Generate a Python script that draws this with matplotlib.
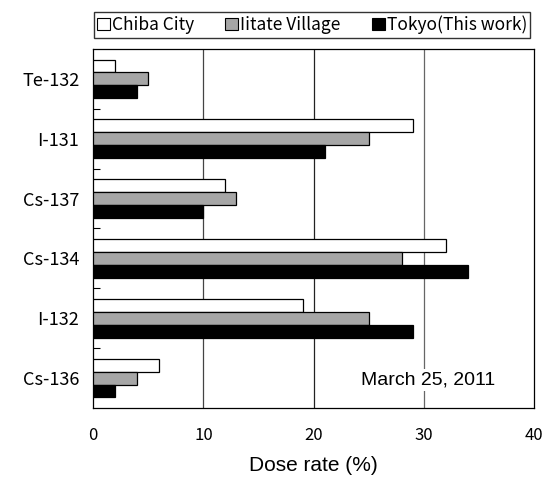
import numpy as np
import matplotlib.pyplot as plt
from matplotlib.patches import Patch

plt.rcParams['font.family'] = ['Noto Sans CJK JP', 'DejaVu Sans']

NUCLIDES = ['Te-132', 'I-131', 'Cs-137', 'Cs-134', 'I-132', 'Cs-136']
CHIBA = [2, 29, 12, 32, 19, 6]
IITATE = [5, 25, 13, 28, 25, 4]
TOKYO = [4, 21, 10, 34, 29, 2]
SERIES = ['Chiba City', 'Iitate Village', 'Tokyo(This work)']
COLORS = ['white', '#a6a6a6', 'black']

fig = plt.figure(figsize=(5.42, 4.80), dpi=100)
ax = fig.add_axes([0.172, 0.150, 0.813, 0.748])

y = np.arange(len(NUCLIDES))
h = 0.215
for i, (vals, c) in enumerate(zip([CHIBA, IITATE, TOKYO], COLORS)):
    ax.barh(y + (i - 1) * h, vals, height=h, color=c, edgecolor='black',
            linewidth=0.9, zorder=3)

for g, gc in zip([10, 20, 30], ['#444444', '#222222', '#666666']):
    ax.axvline(g, color=gc, linewidth=0.9, zorder=1)

ax.set_xlim(0, 40)
ax.set_ylim(len(NUCLIDES) - 0.5, -0.5)
ax.set_xticks([0, 10, 20, 30, 40])
ax.set_yticks(y)
ax.set_yticklabels(NUCLIDES, fontsize=13)
ax.set_yticks(np.arange(0.5, len(NUCLIDES) - 0.5), minor=True)
ax.tick_params(axis='y', which='major', length=0, pad=10)
ax.tick_params(axis='y', which='minor', direction='in', length=5, width=0.8)
ax.tick_params(axis='x', length=0, pad=14, labelsize=12)
ax.set_xlabel('Dose rate (%)', fontsize=15, labelpad=8,
              family='Liberation Sans')
for s in ax.spines.values():
    s.set_linewidth(0.9)

ax.text(0.912, 0.078, 'March 25, 2011', transform=ax.transAxes, ha='right',
        va='center', fontsize=14, zorder=4, family='Liberation Sans',
        bbox=dict(facecolor='white', edgecolor='none', pad=2))

handles = [Patch(facecolor=c, edgecolor='black', linewidth=0.8) for c in COLORS]
fig.legend(handles, SERIES, loc='upper left', bbox_to_anchor=(0.173, 0.975),
           ncol=3, fontsize=12.5, frameon=True, fancybox=False,
           edgecolor='black', handlelength=0.75, handleheight=0.75,
           handletextpad=0.1, columnspacing=1.8, borderpad=0.2,
           borderaxespad=0)

fig.savefig('out.png', dpi=100)
